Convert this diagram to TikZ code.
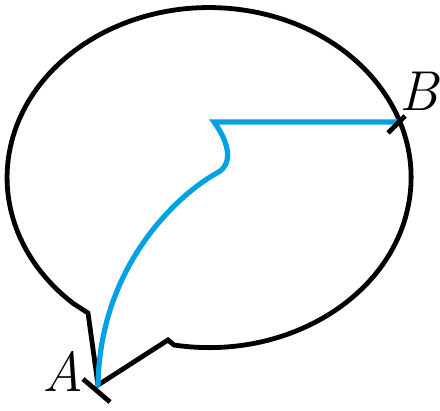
\documentclass[tikz,border=0pt]{standalone}
\usepackage{fontspec}
\definecolor{routeblue}{RGB}{0,162,228}
\begin{document}
\begin{tikzpicture}[x=0.025cm, y=0.025cm]
    \tikzset{
        outline/.style={black, line width=0.12cm},
        route/.style={routeblue, line width=0.13cm, line cap=round},
        ptlabel/.style={font=\fontsize{40}{46}\selectfont\itshape, inner sep=0pt}
    }
    \useasboundingbox (0,0) rectangle (440,410);

    \coordinate (O) at (214,288);
    \coordinate (A) at (98,25);
    \coordinate (B) at (398,288);

    % bubble with its tail at A
    \draw[outline] (174,65) arc[start angle=260, end angle=588, x radius=202, y radius=170]
        -- (88,97) -- (A) -- (168,70) -- cycle;

    % path from the centre
    \draw[route] (B) -- (O) .. controls (226,272) and (236,247) .. (217,237)
        .. controls (185,220) and (100,150) .. (A);

    % ticks at the end points
    \draw[outline] (A) ++(-15,6) -- ++(27,-23);
    \draw[outline] (B) ++(-10,-11) -- ++(17,17);

    \node[ptlabel] (labA) at (63,39) {A};
    \node[ptlabel] (labB) at (419,319) {B};
\end{tikzpicture}
\end{document}
